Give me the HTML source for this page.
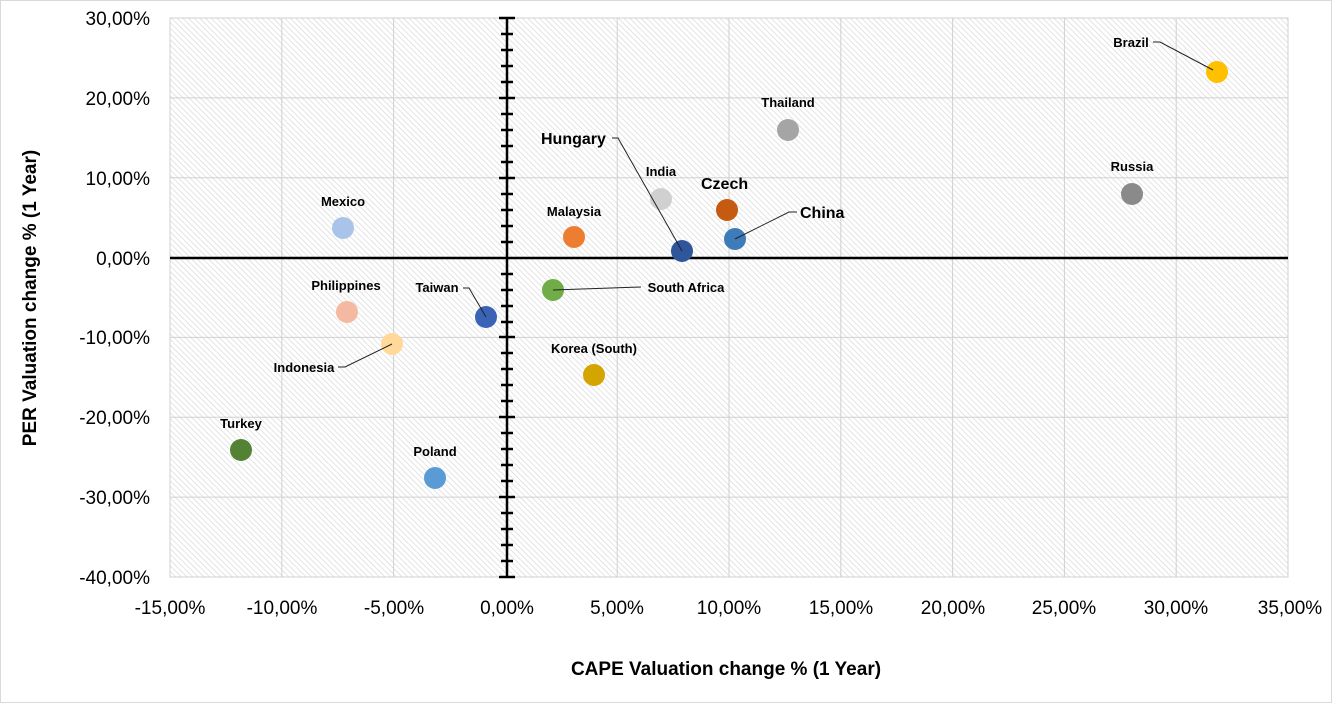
<!DOCTYPE html>
<html><head><meta charset="utf-8"><style>
html,body{margin:0;padding:0;background:#fff}
svg{display:block;font-family:"Liberation Sans",Calibri,sans-serif}
</style></head><body>
<svg width="1332" height="703" viewBox="0 0 1332 703" xmlns="http://www.w3.org/2000/svg">
<defs>
<pattern id="h" width="4" height="4" patternUnits="userSpaceOnUse" patternTransform="rotate(-45)">
<rect width="4" height="4" fill="#fff"/>
<line x1="0" y1="0" x2="0" y2="4" stroke="#d6d6d6" stroke-width="1.3"/>
</pattern>
</defs>
<rect x="0.5" y="0.5" width="1331" height="702" fill="#fff" stroke="#d9d9d9"/>
<rect x="170" y="18" width="1118" height="559" fill="url(#h)" stroke="#d0d0d0"/>
<g stroke="#d0d0d0" stroke-width="1">
<line x1="281.8" y1="18" x2="281.8" y2="577"/><line x1="393.6" y1="18" x2="393.6" y2="577"/>
<line x1="617.2" y1="18" x2="617.2" y2="577"/><line x1="729" y1="18" x2="729" y2="577"/>
<line x1="840.8" y1="18" x2="840.8" y2="577"/><line x1="952.6" y1="18" x2="952.6" y2="577"/>
<line x1="1064.4" y1="18" x2="1064.4" y2="577"/><line x1="1176.2" y1="18" x2="1176.2" y2="577"/>
<line x1="170" y1="97.9" x2="1288" y2="97.9"/><line x1="170" y1="177.7" x2="1288" y2="177.7"/>
<line x1="170" y1="337.4" x2="1288" y2="337.4"/><line x1="170" y1="417.3" x2="1288" y2="417.3"/>
<line x1="170" y1="497.1" x2="1288" y2="497.1"/>
</g>
<g stroke="#000" stroke-width="2.5">
<line x1="170" y1="258" x2="1288" y2="258"/>
<line x1="507" y1="18" x2="507" y2="577"/>
</g>
<g stroke="#000" stroke-width="2.5">
<line x1="499" x2="515" y1="18" y2="18"/>
<line x1="501" x2="513" y1="34" y2="34"/><line x1="501" x2="513" y1="50" y2="50"/><line x1="501" x2="513" y1="66" y2="66"/><line x1="501" x2="513" y1="82" y2="82"/>
<line x1="499" x2="515" y1="98" y2="98"/>
<line x1="501" x2="513" y1="114" y2="114"/><line x1="501" x2="513" y1="130" y2="130"/><line x1="501" x2="513" y1="146" y2="146"/><line x1="501" x2="513" y1="162" y2="162"/>
<line x1="499" x2="515" y1="178" y2="178"/>
<line x1="501" x2="513" y1="194" y2="194"/><line x1="501" x2="513" y1="210" y2="210"/><line x1="501" x2="513" y1="226" y2="226"/><line x1="501" x2="513" y1="242" y2="242"/>
<line x1="501" x2="513" y1="274" y2="274"/><line x1="501" x2="513" y1="290" y2="290"/><line x1="501" x2="513" y1="306" y2="306"/><line x1="501" x2="513" y1="322" y2="322"/>
<line x1="499" x2="515" y1="337" y2="337"/>
<line x1="501" x2="513" y1="353" y2="353"/><line x1="501" x2="513" y1="369" y2="369"/><line x1="501" x2="513" y1="385" y2="385"/><line x1="501" x2="513" y1="401" y2="401"/>
<line x1="499" x2="515" y1="417" y2="417"/>
<line x1="501" x2="513" y1="433" y2="433"/><line x1="501" x2="513" y1="449" y2="449"/><line x1="501" x2="513" y1="465" y2="465"/><line x1="501" x2="513" y1="481" y2="481"/>
<line x1="499" x2="515" y1="497" y2="497"/>
<line x1="501" x2="513" y1="513" y2="513"/><line x1="501" x2="513" y1="529" y2="529"/><line x1="501" x2="513" y1="545" y2="545"/><line x1="501" x2="513" y1="561" y2="561"/>
<line x1="499" x2="515" y1="577" y2="577"/>
</g>
<g font-size="19" fill="#000" text-anchor="end">
<text x="150" y="25">30,00%</text><text x="150" y="105">20,00%</text><text x="150" y="185">10,00%</text>
<text x="150" y="265">0,00%</text><text x="150" y="344">-10,00%</text><text x="150" y="424">-20,00%</text>
<text x="150" y="504">-30,00%</text><text x="150" y="584">-40,00%</text>
</g>
<g font-size="19" fill="#000" text-anchor="middle">
<text x="170" y="614">-15,00%</text><text x="282" y="614">-10,00%</text><text x="394" y="614">-5,00%</text>
<text x="507" y="614">0,00%</text><text x="617" y="614">5,00%</text><text x="729" y="614">10,00%</text>
<text x="841" y="614">15,00%</text><text x="953" y="614">20,00%</text><text x="1064" y="614">25,00%</text>
<text x="1176" y="614">30,00%</text><text x="1290" y="614">35,00%</text>
</g>
<text x="726" y="675" font-size="19" font-weight="bold" text-anchor="middle">CAPE Valuation change %  (1 Year)</text>
<text transform="translate(36,298) rotate(-90)" font-size="19" font-weight="bold" text-anchor="middle">PER Valuation change  % (1 Year)</text>
<g>
<circle cx="1217" cy="72" r="11" fill="#FFC000"/>
<circle cx="788" cy="130" r="11" fill="#A5A5A5"/>
<circle cx="1132" cy="194" r="11" fill="#8A8A8A"/>
<circle cx="661" cy="199" r="11" fill="#D0D0D0"/>
<circle cx="727" cy="210" r="11" fill="#C55A11"/>
<circle cx="735" cy="239" r="11" fill="#3E7CB9"/>
<circle cx="574" cy="237" r="11" fill="#ED7D31"/>
<circle cx="682" cy="251" r="11" fill="#2F559A"/>
<circle cx="343" cy="228" r="11" fill="#A9C4E8"/>
<circle cx="553" cy="290" r="11" fill="#70AD47"/>
<circle cx="347" cy="312" r="11" fill="#F4B9A0"/>
<circle cx="486" cy="317" r="11" fill="#3A62B5"/>
<circle cx="392" cy="344" r="11" fill="#FFD89A"/>
<circle cx="594" cy="375" r="11" fill="#D4A500"/>
<circle cx="241" cy="450" r="11" fill="#548235"/>
<circle cx="435" cy="478" r="11" fill="#5B9BD5"/>
</g>
<g stroke="#222" stroke-width="1" fill="none">
<polyline points="1153,42 1160,42 1213,70"/>
<polyline points="612,138 618,138 682,251"/>
<polyline points="797,212 789,212 735,239"/>
<polyline points="641,287 553,290"/>
<polyline points="463,288 469,288 486,317"/>
<polyline points="338,367 345,367 392,344"/>
</g>
<g font-size="13" font-weight="bold" fill="#000" text-anchor="middle">
<text x="1131" y="47">Brazil</text>
<text x="788" y="107">Thailand</text>
<text x="1132" y="171">Russia</text>
<text x="661" y="176">India</text>
<text x="574" y="216">Malaysia</text>
<text x="343" y="206">Mexico</text>
<text x="686" y="292">South Africa</text>
<text x="346" y="290">Philippines</text>
<text x="437" y="292">Taiwan</text>
<text x="304" y="372">Indonesia</text>
<text x="594" y="353">Korea (South)</text>
<text x="241" y="428">Turkey</text>
<text x="435" y="456">Poland</text>
</g>
<g font-size="16" font-weight="bold" fill="#000">
<text x="541" y="144">Hungary</text>
<text x="701" y="189">Czech</text>
<text x="800" y="218">China</text>
</g>
</svg>
</body></html>
